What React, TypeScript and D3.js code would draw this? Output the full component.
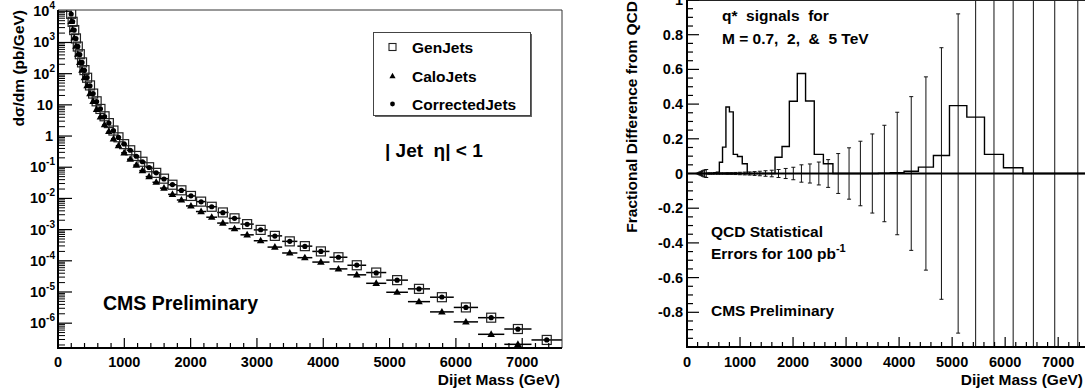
import React from 'react';
import * as d3 from 'd3';

// ---------------- data ----------------
// Dijet mass bin edges (GeV)
const binEdges = [188, 209, 232, 257, 284, 313, 345, 380, 418, 460, 505, 555, 610, 670, 734, 800, 872, 952, 1042, 1136, 1226, 1322, 1425, 1537, 1660, 1792, 1930, 2080, 2236, 2400, 2572, 2752, 2952, 3160, 3380, 3610, 3835, 4094, 4364, 4647, 4950, 5277, 5610, 5968, 6334, 6730, 7140, 7600];

// dσ/dm (pb/GeV)
const genJets = [8.3e3, 4.6e3, 2.5e3, 1.35e3, 7.4e2, 4.2e2, 2.3e2, 1.3e2, 74, 42, 23, 13, 7.4, 4.3, 2.6, 1.5, 0.91, 0.55, 0.35, 0.23, 0.15, 0.1, 0.066, 0.043, 0.0275, 0.0182, 0.012, 7.9e-3, 5.4e-3, 3.55e-3, 2.3e-3, 1.5e-3, 9.8e-4, 6.3e-4, 4.2e-4, 2.95e-4, 2.0e-4, 1.3e-4, 7.2e-5, 4.2e-5, 2.4e-5, 1.26e-5, 6.8e-6, 3.2e-6, 1.5e-6, 6.5e-7, 2.9e-7];
const caloJets = [4.7e3, 2.6e3, 1.4e3, 7.6e2, 4.2e2, 2.3e2, 1.3e2, 74, 41, 23, 13, 7.2, 4.1, 2.3, 1.4, 0.81, 0.49, 0.29, 0.18, 0.117, 0.078, 0.05, 0.033, 0.0214, 0.0135, 8.9e-3, 5.75e-3, 3.8e-3, 2.5e-3, 1.62e-3, 1.07e-3, 6.8e-4, 4.4e-4, 2.75e-4, 1.78e-4, 1.26e-4, 9.1e-5, 5.5e-5, 3.55e-5, 1.9e-5, 9.8e-6, 4.9e-6, 2.3e-6, 1.1e-6, 4.4e-7, 2.1e-7, 8.9e-8];
const correctedJets = [8.2e3, 4.7e3, 2.5e3, 1.33e3, 7.5e2, 4.1e2, 2.3e2, 1.28e2, 75, 41, 23, 12.8, 7.5, 4.2, 2.6, 1.5, 0.9, 0.56, 0.35, 0.225, 0.15, 0.098, 0.066, 0.042, 0.0277, 0.018, 0.0121, 7.8e-3, 5.4e-3, 3.5e-3, 2.3e-3, 1.48e-3, 9.9e-4, 6.2e-4, 4.2e-4, 2.9e-4, 2.0e-4, 1.3e-4, 7.3e-5, 4.1e-5, 2.4e-5, 1.25e-5, 6.9e-6, 3.2e-6, 1.5e-6, 6.4e-7, 2.9e-7];

// Right panel: QCD statistical errors (fractional) and q* signals (fractional difference)
const qcdStatErrors = [0.001, 0.004, 0.008, 0.012, 0.016, 0.02, 0.023, 0.003, 0.003, 0.003, 0.003, 0.004, 0.004, 0.004, 0.005, 0.005, 0.006, 0.007, 0.008, 0.009, 0.011, 0.013, 0.016, 0.019, 0.023, 0.029, 0.036, 0.05, 0.055, 0.066, 0.08, 0.115, 0.148, 0.186, 0.228, 0.278, 0.353, 0.443, 0.557, 0.725, 0.92, 1.25, 1.7, 2.4, 3.3, 4.5, 6.0];
const qstarSignals = [0, 0, 0, 0, 0, 0, 0, 0, 0, 0, 0.004, 0.008, 0.065, 0.152, 0.383, 0.355, 0.11, 0.098, 0.056, 0, 0, 0, 0, 0, 0.094, 0.156, 0.416, 0.576, 0.418, 0.11, 0.056, 0, 0, 0, 0, 0.002, 0.004, 0.013, 0.037, 0.104, 0.391, 0.325, 0.11, 0.033, 0, 0, 0];

// ticks
const xMajorTicks = [0, 1000, 2000, 3000, 4000, 5000, 6000, 7000];
const logTickExps = [4, 3, 2, 1, 0, -1, -2, -3, -4, -5, -6];
const fracTicks = [1, 0.8, 0.6, 0.4, 0.2, 0, -0.2, -0.4, -0.6, -0.8];
const fracTickLabels = ['1', '0.8', '0.6', '0.4', '0.2', '0', '-0.2', '-0.4', '-0.6', '-0.8'];

const legendEntries = ['GenJets', 'CaloJets', 'CorrectedJets'];

// ---------------- layout ----------------
const FONT = "'Liberation Sans', Arial, Helvetica, sans-serif";
const L = { x0: 58, x1: 562, y0: 10, y1: 348 };
const R = { x0: 687, x1: 1090, y0: 0.5, y1: 347 };

const xL = d3.scaleLinear().domain([0, 7600]).range([L.x0, L.x1]);
const yL = d3.scaleLog().domain([1.6e-7, 1.1e4]).range([L.y1, L.y0]);
const xR = d3.scaleLinear().domain([0, 7600]).range([R.x0, R.x1]);
const yR = d3.scaleLinear().domain([-1, 1]).range([347, 0]);

const bins = d3.range(binEdges.length - 1).map(i => ({
  lo: binEdges[i],
  hi: binEdges[i + 1],
  c: (binEdges[i] + binEdges[i + 1]) / 2,
}));

const inL = (v: number) => v >= yL.domain()[0] && v <= yL.domain()[1];

function triPath(cx: number, cy: number) {
  return `M${cx},${cy - 4}L${cx + 3.8},${cy + 2.6}L${cx - 3.8},${cy + 2.6}Z`;
}

export default function App() {
  const minorX = d3.range(200, 7600, 200).filter(v => v % 1000 !== 0);
  const logMinor: number[] = [];
  for (let e = -7; e <= 4; e++) {
    for (let k = 2; k <= 9; k++) {
      const v = k * Math.pow(10, e);
      if (inL(v)) logMinor.push(v);
    }
  }
  const fracMinor = d3.range(-1, 1.0001, 0.05).filter(v => Math.abs(Math.round(v * 5) - v * 5) > 1e-6);

  // histogram outline
  const histPts: [number, number][] = [[binEdges[0], 0]];
  bins.forEach((b, i) => {
    histPts.push([b.lo, qstarSignals[i]]);
    histPts.push([b.hi, qstarSignals[i]]);
  });
  histPts.push([binEdges[binEdges.length - 1], 0]);
  const histLine = d3.line<[number, number]>().x(d => xR(d[0])).y(d => yR(d[1]))(histPts) || '';

  const textBold = { fontFamily: FONT, fontWeight: 700 as const, fill: '#000' };

  return (
    <svg width={1085} height={390} style={{ position: 'absolute', left: 0, top: 0, background: '#fff' }}>
      <defs>
        <clipPath id="clipL"><rect x={L.x0} y={L.y0} width={L.x1 - L.x0} height={L.y1 - L.y0} /></clipPath>
        <clipPath id="clipR"><rect x={R.x0} y={0} width={1085 - R.x0} height={R.y1} /></clipPath>
      </defs>
      <rect x={0} y={0} width={1085} height={390} fill="#fff" />

      {/* ================= LEFT PANEL ================= */}
      <g>
        {/* data */}
        <g clipPath="url(#clipL)">
          {bins.map((b, i) => inL(genJets[i]) && (
            <line key={'gh' + i} x1={xL(b.lo)} x2={xL(b.hi)} y1={yL(genJets[i])} y2={yL(genJets[i])} stroke="#000" strokeWidth={1.5} />
          ))}
          {bins.map((b, i) => inL(caloJets[i]) && (
            <line key={'ch' + i} x1={xL(b.lo)} x2={xL(b.hi)} y1={yL(caloJets[i])} y2={yL(caloJets[i])} stroke="#000" strokeWidth={1.5} />
          ))}
          {bins.map((b, i) => inL(genJets[i]) && (
            <rect key={'gs' + i} x={xL(b.c) - 4.5} y={yL(genJets[i]) - 4.5} width={9} height={9} fill="none" stroke="#222" strokeWidth={1.2} />
          ))}
          {bins.map((b, i) => inL(caloJets[i]) && (
            <path key={'ct' + i} d={triPath(xL(b.c), yL(caloJets[i]))} fill="#000" />
          ))}
          {bins.map((b, i) => inL(correctedJets[i]) && (
            <circle key={'cd' + i} cx={xL(b.c)} cy={yL(correctedJets[i])} r={2.6} fill="#000" />
          ))}
        </g>

        {/* frame */}
        <line x1={L.x0} x2={L.x1} y1={L.y0} y2={L.y0} stroke="#333" strokeWidth={1} />
        <line x1={L.x1} x2={L.x1} y1={L.y0} y2={L.y1} stroke="#333" strokeWidth={1} />

        {/* x ticks */}
        {xMajorTicks.map(v => (
          <line key={'lxM' + v} x1={xL(v)} x2={xL(v)} y1={L.y1} y2={L.y1 - 10} stroke="#000" strokeWidth={1.2} />
        ))}
        {minorX.map(v => (
          <line key={'lxm' + v} x1={xL(v)} x2={xL(v)} y1={L.y1} y2={L.y1 - 5} stroke="#000" strokeWidth={1.2} />
        ))}
        {xMajorTicks.map(v => (
          <text key={'lxl' + v} x={xL(v)} y={367} textAnchor="middle" fontSize={14.5} {...textBold}>{v}</text>
        ))}

        {/* y ticks */}
        {logTickExps.map(e => (
          <line key={'lyM' + e} x1={L.x0} x2={L.x0 + 14} y1={yL(Math.pow(10, e))} y2={yL(Math.pow(10, e))} stroke="#000" strokeWidth={1.2} />
        ))}
        {logMinor.map((v, i) => (
          <line key={'lym' + i} x1={L.x0} x2={L.x0 + 7} y1={yL(v)} y2={yL(v)} stroke="#000" strokeWidth={1} />
        ))}
        {logTickExps.map(e => {
          const y = yL(Math.pow(10, e)) + 5;
          if (e === 0) return <text key={'lyl' + e} x={53} y={y} textAnchor="end" fontSize={14.5} {...textBold}>1</text>;
          if (e === 1) return <text key={'lyl' + e} x={53} y={y} textAnchor="end" fontSize={14.5} {...textBold}>10</text>;
          return (
            <text key={'lyl' + e} x={55} y={y} textAnchor="end" fontSize={14.5} {...textBold}>
              10<tspan dy={-7} fontSize={10}>{e}</tspan>
            </text>
          );
        })}

        {/* axes lines */}
        <line x1={L.x0} x2={L.x0} y1={L.y0} y2={L.y1 + 1} stroke="#000" strokeWidth={2} />
        <line x1={L.x0 - 1} x2={L.x1} y1={L.y1} y2={L.y1} stroke="#000" strokeWidth={2} />

        {/* titles */}
        <text x={560} y={385} textAnchor="end" fontSize={15.5} {...textBold}>Dijet Mass (GeV)</text>
        <text transform={`translate(24,10) rotate(-90)`} textAnchor="end" fontSize={15.5} {...textBold}>dσ/dm (pb/GeV)</text>

        {/* legend */}
        <rect x={375} y={34} width={157} height={83} fill="#666" />
        <rect x={373.5} y={32.5} width={157} height={83} fill="#fff" stroke="#444" strokeWidth={1} />
        {legendEntries.map((name, i) => {
          const y = [47, 76, 104][i];
          return (
            <g key={name}>
              {i === 0 && <rect x={389} y={y - 3.5} width={7} height={7} fill="none" stroke="#222" strokeWidth={1.1} />}
              {i === 1 && <path d={`M392.5,${y - 3.3}L395.6,${y + 2.3}L389.4,${y + 2.3}Z`} fill="#000" />}
              {i === 2 && <circle cx={392.5} cy={y} r={2.4} fill="#000" />}
              <text x={412} y={y + 5.5} fontSize={15.5} {...textBold}>{name}</text>
            </g>
          );
        })}

        <text x={385} y={157} fontSize={19} {...textBold} style={{ whiteSpace: 'pre' }}>{'| Jet  η| < 1'}</text>
        <text x={103} y={310} fontSize={19.5} {...textBold}>CMS Preliminary</text>
      </g>

      {/* ================= RIGHT PANEL ================= */}
      <g>
        <g clipPath="url(#clipR)">
          {bins.map((b, i) => {
            const x = xR(b.c);
            const e = qcdStatErrors[i];
            return (
              <g key={'eb' + i}>
                <line x1={x} x2={x} y1={yR(e)} y2={yR(-e)} stroke="#111" strokeWidth={1} />
                <line x1={x - 2} x2={x + 2} y1={yR(e)} y2={yR(e)} stroke="#111" strokeWidth={1} />
                <line x1={x - 2} x2={x + 2} y1={yR(-e)} y2={yR(-e)} stroke="#111" strokeWidth={1} />
              </g>
            );
          })}
          <path d={histLine} fill="none" stroke="#000" strokeWidth={1.4} />
          <line x1={R.x0} x2={1085} y1={yR(0)} y2={yR(0)} stroke="#000" strokeWidth={2.2} />
        </g>

        {/* frame */}
        <line x1={R.x0} x2={1085} y1={R.y0} y2={R.y0} stroke="#222" strokeWidth={1} />

        {/* x ticks */}
        {xMajorTicks.map(v => (
          <line key={'rxM' + v} x1={xR(v)} x2={xR(v)} y1={R.y1} y2={R.y1 - 10} stroke="#000" strokeWidth={1.2} />
        ))}
        {minorX.map(v => (
          <line key={'rxm' + v} x1={xR(v)} x2={xR(v)} y1={R.y1} y2={R.y1 - 5} stroke="#000" strokeWidth={1.2} />
        ))}
        {xMajorTicks.map(v => (
          <text key={'rxl' + v} x={xR(v)} y={367} textAnchor="middle" fontSize={14.5} {...textBold}>{v}</text>
        ))}

        {/* y ticks */}
        {fracTicks.map(v => (
          <line key={'ryM' + v} x1={R.x0} x2={R.x0 + 12} y1={yR(v)} y2={yR(v)} stroke="#000" strokeWidth={1.2} />
        ))}
        {fracMinor.map((v, i) => (
          <line key={'rym' + i} x1={R.x0} x2={R.x0 + 6} y1={yR(v)} y2={yR(v)} stroke="#000" strokeWidth={1.2} />
        ))}
        {fracTicks.map((v, i) => (
          <text key={'ryl' + i} x={683} y={yR(v) + 5} textAnchor="end" fontSize={14.5} {...textBold}>{fracTickLabels[i]}</text>
        ))}

        <line x1={R.x0} x2={R.x0} y1={0} y2={R.y1 + 1} stroke="#000" strokeWidth={2} />
        <line x1={R.x0 - 1} x2={1085} y1={R.y1} y2={R.y1} stroke="#000" strokeWidth={2} />

        <text x={1083} y={385} textAnchor="end" fontSize={15.5} {...textBold}>Dijet Mass (GeV)</text>
        <text transform={`translate(637,1) rotate(-90)`} textAnchor="end" fontSize={15.5} {...textBold}>Fractional Difference from QCD</text>

        <text x={722} y={21} fontSize={15.5} {...textBold} style={{ whiteSpace: 'pre' }}>{'q*  signals  for'}</text>
        <text x={722} y={44} fontSize={15.5} {...textBold} style={{ whiteSpace: 'pre' }}>{'M = 0.7,  2,  &  5 TeV'}</text>
        <text x={711} y={237} fontSize={15.5} {...textBold}>QCD Statistical</text>
        <text x={711} y={259} fontSize={15.5} {...textBold}>Errors for 100 pb<tspan dy={-7} fontSize={11}>-1</tspan></text>
        <text x={711} y={316} fontSize={15.5} {...textBold}>CMS Preliminary</text>
      </g>
    </svg>
  );
}
